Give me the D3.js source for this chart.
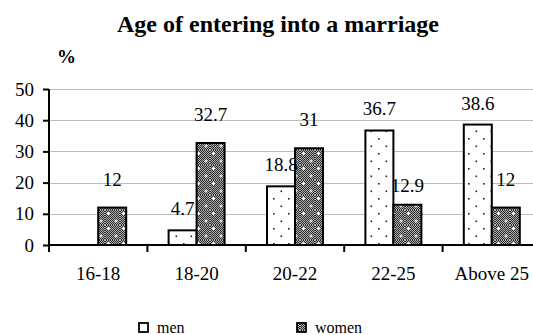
<!DOCTYPE html>
<html>
<head>
<meta charset="utf-8">
<script src="https://cdn.jsdelivr.net/npm/d3@7"></script>
</head>
<body style="margin:0;background:#fff">
<svg id="chart" width="533" height="335" style="display:block"></svg>
<script>
// Age at first marriage, share of respondents (%)
const categories = ["16-18", "18-20", "20-22", "22-25", "Above 25"];
const men   = [null, 4.7, 18.8, 36.7, 38.6];
const women = [12, 32.7, 31, 12.9, 12];
const yTicks = [0, 10, 20, 30, 40, 50];
const seriesNames = ["men", "women"];

const SERIF = "Liberation Serif";

const svg = d3.select("#chart").style("font-family", SERIF);
const defs = svg.append("defs");

// Sparse staggered dots on white for men
const pMen = defs.append("pattern").attr("id", "pat-men")
  .attr("patternUnits", "userSpaceOnUse").attr("width", 15).attr("height", 15);
pMen.append("rect").attr("width", 15).attr("height", 15).attr("fill", "#fff");
pMen.append("rect").attr("x", 3).attr("y", 3).attr("width", 1.6).attr("height", 1.6).attr("fill", "#222");
pMen.append("rect").attr("x", 10.5).attr("y", 10.5).attr("width", 1.6).attr("height", 1.6).attr("fill", "#222");

// Fine dark checker with white dots for women
const pChk = defs.append("pattern").attr("id", "pat-chk")
  .attr("patternUnits", "userSpaceOnUse").attr("width", 2).attr("height", 2);
pChk.append("rect").attr("width", 2).attr("height", 2).attr("fill", "#2a2a2a");
pChk.append("rect").attr("width", 1).attr("height", 1).attr("fill", "#b0b0b0");
pChk.append("rect").attr("x", 1).attr("y", 1).attr("width", 1).attr("height", 1).attr("fill", "#b0b0b0");
const pWomen = defs.append("pattern").attr("id", "pat-women")
  .attr("patternUnits", "userSpaceOnUse").attr("width", 15).attr("height", 15);
pWomen.append("rect").attr("width", 15).attr("height", 15).attr("fill", "url(#pat-chk)");
[[3, 3], [10.5, 10.5]].forEach(([cx, cy]) => {
  pWomen.append("rect").attr("x", cx - 1).attr("y", cy).attr("width", 3).attr("height", 1).attr("fill", "#fff");
  pWomen.append("rect").attr("x", cx).attr("y", cy - 1).attr("width", 1).attr("height", 3).attr("fill", "#fff");
});

const x = d3.scaleBand().domain(categories).range([49, 541]).padding(0);
const y = d3.scaleLinear().domain([0, 50]).range([245, 89]);
const barW = 28;

// Title and unit
svg.append("text").attr("x", 278).attr("y", 32).attr("text-anchor", "middle")
  .style("font-family", SERIF).style("font-size", "24px").style("font-weight", "bold")
  .text("Age of entering into a marriage");
svg.append("text").attr("x", 57).attr("y", 63)
  .style("font-family", SERIF).style("font-size", "19px").style("font-weight", "bold").text("%");

// Gridlines
svg.append("g").selectAll("line").data(yTicks.filter(d => d > 0)).join("line")
  .attr("x1", 49).attr("x2", 533)
  .attr("y1", d => Math.round(y(d)) + 0.5).attr("y2", d => Math.round(y(d)) + 0.5)
  .attr("stroke", "#bdbdbd").attr("stroke-width", 1);

// Bars
const menRows = categories.map((c, i) => ({ c, v: men[i] })).filter(d => d.v != null);
const womenRows = categories.map((c, i) => ({ c, v: women[i], m: men[i] })).filter(d => d.v != null);

const bars = svg.append("g");
bars.selectAll("rect.men").data(menRows).join("rect").attr("class", "men")
  .attr("x", d => x(d.c) + x.bandwidth() / 2 - barW)
  .attr("y", d => y(d.v)).attr("width", barW).attr("height", d => y(0) - y(d.v))
  .attr("fill", "url(#pat-men)").attr("stroke", "#000").attr("stroke-width", 2);
bars.selectAll("rect.women").data(womenRows).join("rect").attr("class", "women")
  .attr("x", d => x(d.c) + x.bandwidth() / 2)
  .attr("y", d => y(d.v)).attr("width", barW).attr("height", d => y(0) - y(d.v))
  .attr("fill", "url(#pat-women)").attr("stroke", "#000").attr("stroke-width", 2);

// Value labels
const labels = svg.append("g").style("font-family", SERIF).style("font-size", "19px")
  .attr("text-anchor", "middle");
labels.selectAll("text.men").data(menRows).join("text").attr("class", "men")
  .attr("x", d => x(d.c) + x.bandwidth() / 2 - barW / 2)
  .attr("y", d => y(d.v) - 15).text(d => d.v);
labels.selectAll("text.women").data(womenRows).join("text").attr("class", "women")
  .attr("x", d => x(d.c) + x.bandwidth() / 2 + barW / 2)
  .attr("y", d => y(d.v) - (d.m > 30 && d.v > 12.5 ? 13 : 22))
  .text(d => d.v);

// Y axis
const yAxis = svg.append("g").attr("transform", "translate(49,0)")
  .call(d3.axisLeft(y).tickValues(yTicks).tickSize(6).tickPadding(9));
yAxis.attr("font-family", SERIF).attr("font-size", 19);
yAxis.select(".domain").attr("d", `M0,${y(50)}V252`).attr("stroke", "#000").attr("stroke-width", 2);
yAxis.selectAll(".tick line").attr("stroke", "#000").attr("stroke-width", 2);
yAxis.selectAll(".tick text").style("font-family", SERIF).style("font-size", "19px").attr("fill", "#000");

// X axis
const xAxis = svg.append("g").attr("transform", "translate(0,245)");
xAxis.append("line").attr("x1", 49).attr("x2", 533).attr("y1", 0).attr("y2", 0)
  .attr("stroke", "#000").attr("stroke-width", 2);
xAxis.selectAll("line.sep").data(categories.slice(1)).join("line").attr("class", "sep")
  .attr("x1", d => x(d)).attr("x2", d => x(d)).attr("y1", 0).attr("y2", 7)
  .attr("stroke", "#000").attr("stroke-width", 2);
xAxis.selectAll("text").data(categories).join("text")
  .attr("x", d => x(d) + x.bandwidth() / 2).attr("y", 35)
  .attr("text-anchor", "middle").style("font-family", SERIF).style("font-size", "19px").text(d => d);

// Legend
const legend = svg.append("g").style("font-family", SERIF).style("font-size", "16px");
const legendX = [139, 297];
seriesNames.forEach((name, i) => {
  legend.append("rect").attr("x", legendX[i]).attr("y", 323).attr("width", 9).attr("height", 9)
    .attr("fill", i === 0 ? "#fff" : "url(#pat-women)").attr("stroke", "#000").attr("stroke-width", 1.8);
  legend.append("text").attr("x", legendX[i] + 18).attr("y", 333).text(name);
});
</script>
</body>
</html>
